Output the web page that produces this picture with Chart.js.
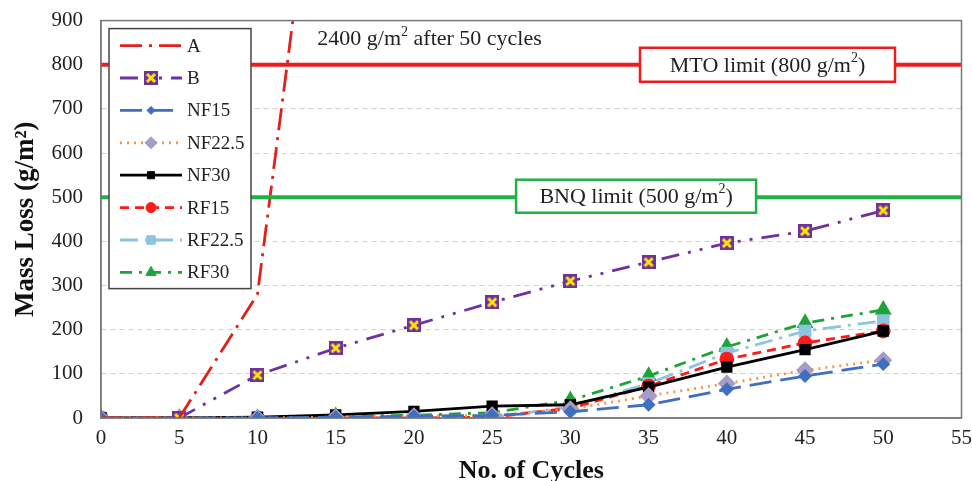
<!DOCTYPE html>
<html>
<head>
<meta charset="utf-8">
<script src="https://cdn.jsdelivr.net/npm/chart.js@4.4.1/dist/chart.umd.min.js"></script>
<style>
  html, body { margin: 0; padding: 0; background: #fff; overflow: hidden; }
  #wrap { width: 980px; height: 491px; margin-top: -10px; }
</style>
</head>
<body>
<div id="wrap"><canvas id="chart"></canvas></div>
<script>
// data
var cycles = [0, 5, 10, 15, 20, 25, 30, 35, 40, 45, 50];
var lossA = [0, 0, 280, 1650, 1900, 2050, 2150, 2250, 2300, 2350, 2400];
var lossB = [null, 0, 97, 158, 210, 262, 310, 353, 396, 423, 470];
var lossNF15 = [0, 0, 0, 2, 4, 6, 14, 30, 65, 95, 122];
var lossNF22 = [0, 0, 0, 2, 4, 6, 20, 50, 78, 108, 131];
var lossNF30 = [0, 0, 2, 7, 15, 27, 30, 70, 115, 155, 197];
var lossRF15 = [0, 0, 0, 0, 0, 2, 22, 72, 133, 170, 197];
var lossRF22 = [0, 0, 0, 0, 0, 2, 25, 78, 147, 197, 220];
var lossRF30 = [0, 0, 0, 4, 6, 12, 40, 95, 161, 215, 245];
var limitValues = [800, 500];
var limitLabels = ["MTO limit (800 g/m", "BNQ limit (500 g/m"];
var xTicks = [0, 5, 10, 15, 20, 25, 30, 35, 40, 45, 50, 55];

function pts(vals) {
  return cycles.map(function (c, i) { return { x: c, y: vals[i] }; });
}

// marker for B: purple square with yellow cross
var bMark = document.createElement("canvas");
bMark.width = 14; bMark.height = 14;
(function () {
  var c = bMark.getContext("2d");
  c.fillStyle = "#7030a0";
  c.fillRect(0, 0, 14, 14);
  c.strokeStyle = "#ffe600";
  c.lineWidth = 3;
  c.beginPath();
  c.moveTo(3, 3); c.lineTo(11, 11);
  c.moveTo(11, 3); c.lineTo(3, 11);
  c.stroke();
})();

var series = [
  { label: "A", data: pts(lossA), borderColor: "#e0201b", backgroundColor: "#e0201b", borderWidth: 2.8, borderDash: [22, 7, 3, 7], pointRadius: 0, pointStyle: false },
  { label: "B", data: pts(lossB), borderColor: "#7030a0", backgroundColor: "#7030a0", borderWidth: 2.8, borderDash: [18, 9, 3, 9, 3, 9], pointStyle: bMark, pointRadius: 7 },
  { label: "NF15", data: pts(lossNF15), borderColor: "#3f6fc0", backgroundColor: "#3f6fc0", borderWidth: 2.8, borderDash: [22, 9], pointStyle: "rectRot", pointRadius: 5 },
  { label: "NF22.5", data: pts(lossNF22), borderColor: "#f79646", backgroundColor: "#a79bc8", pointBorderColor: "#a79bc8", borderWidth: 2.8, borderDash: [2, 5], pointStyle: "rectRot", pointRadius: 7 },
  { label: "NF30", data: pts(lossNF30), borderColor: "#000000", backgroundColor: "#000000", borderWidth: 2.8, borderDash: [], pointStyle: "rect", pointRadius: 6 },
  { label: "RF15", data: pts(lossRF15), borderColor: "#ff1a1a", backgroundColor: "#ff1a1a", borderWidth: 2.8, borderDash: [9, 6], pointStyle: "circle", pointRadius: 6 },
  { label: "RF22.5", data: pts(lossRF22), borderColor: "#8dc3de", backgroundColor: "#8dc3de", borderWidth: 2.8, borderDash: [18, 7, 3, 7], pointStyle: "rect", pointRadius: 7 },
  { label: "RF30", data: pts(lossRF30), borderColor: "#1ea33b", backgroundColor: "#1ea33b", borderWidth: 2.8, borderDash: [12, 7, 3, 7], pointStyle: "triangle", pointRadius: 7 }
];

var limitColors = ["#ee1c1c", "#1fb142"];
var limitSets = limitValues.map(function (v, i) {
  return { label: limitLabels[i], isLimit: true, data: [{ x: 0, y: v }, { x: 55, y: v }],
    borderColor: limitColors[i], borderWidth: 4, pointRadius: 0, borderDash: [] };
});

var serif = "'Liberation Serif', 'DejaVu Serif', serif";

// frame, annotations and legend
var decor = {
  id: "decor",
  afterDraw: function (chart) {
    var ctx = chart.ctx, a = chart.chartArea;
    var xs = chart.scales.x, ys = chart.scales.y;
    ctx.save();
    ctx.strokeStyle = "#777";
    ctx.lineWidth = 1.5;
    ctx.strokeRect(a.left, a.top, a.right - a.left, a.bottom - a.top);

    // text with superscript 2
    function supText(pre, post, x, y, size) {
      ctx.font = size + "px " + serif;
      var w1 = ctx.measureText(pre).width;
      ctx.font = Math.round(size * 0.62) + "px " + serif;
      var w2 = ctx.measureText("2").width;
      ctx.font = size + "px " + serif;
      var w3 = ctx.measureText(post).width;
      var sx = x - (w1 + w2 + w3) / 2;
      ctx.textAlign = "left";
      ctx.textBaseline = "middle";
      ctx.fillStyle = "#222";
      ctx.fillText(pre, sx, y);
      ctx.font = Math.round(size * 0.62) + "px " + serif;
      ctx.fillText("2", sx + w1, y - size * 0.35);
      ctx.font = size + "px " + serif;
      ctx.fillText(post, sx + w1 + w2, y);
    }

    // limit label boxes
    var boxes = [
      { cx: xs.getPixelForValue(42.6), cy: ys.getPixelForValue(limitValues[0]), w: 255, h: 34 },
      { cx: xs.getPixelForValue(34.2), cy: ys.getPixelForValue(limitValues[1]) - 1, w: 240, h: 33 }
    ];
    boxes.forEach(function (b, i) {
      ctx.fillStyle = "#fff";
      ctx.fillRect(b.cx - b.w / 2, b.cy - b.h / 2, b.w, b.h);
      ctx.strokeStyle = limitColors[i];
      ctx.lineWidth = 2.5;
      ctx.strokeRect(b.cx - b.w / 2, b.cy - b.h / 2, b.w, b.h);
      supText(limitLabels[i], ")", b.cx, b.cy + 1, 22);
    });

    // A note
    supText("2400 g/m", " after 50 cycles", xs.getPixelForValue(21.0), a.top + 19, 22);

    // legend
    var lx = a.left + 8, ly = a.top + 8, lw = 142, lh = 260;
    ctx.fillStyle = "#fff";
    ctx.fillRect(lx, ly, lw, lh);
    ctx.strokeStyle = "#444";
    ctx.lineWidth = 1.5;
    ctx.strokeRect(lx, ly, lw, lh);
    var k = 0;
    chart.data.datasets.forEach(function (ds) {
      if (ds.isLimit) return;
      var y = ly + 17 + k * 32.4;
      k++;
      ctx.strokeStyle = ds.borderColor;
      ctx.lineWidth = ds.borderWidth;
      ctx.setLineDash(ds.borderDash || []);
      ctx.beginPath();
      ctx.moveTo(lx + 11, y);
      ctx.lineTo(lx + 73, y);
      ctx.stroke();
      ctx.setLineDash([]);
      if (ds.pointStyle) {
        ctx.fillStyle = ds.backgroundColor;
        ctx.strokeStyle = ds.pointBorderColor || ds.borderColor;
        ctx.lineWidth = 1;
        Chart.helpers.drawPoint(ctx, { pointStyle: ds.pointStyle, radius: ds.pointRadius - 1, borderWidth: 1, rotation: 0 }, lx + 42, y);
      }
      ctx.fillStyle = "#222";
      ctx.font = "19px " + serif;
      ctx.textAlign = "left";
      ctx.textBaseline = "middle";
      ctx.fillText(ds.label, lx + 78, y + 1);
    });
    ctx.restore();
  }
};

new Chart(document.getElementById("chart"), {
  type: "line",
  data: { datasets: limitSets.concat(series) },
  options: {
    responsive: true,
    maintainAspectRatio: false,
    animation: false,
    layout: { padding: 0 },
    plugins: { legend: { display: false }, tooltip: { enabled: false } },
    elements: { line: { tension: 0 } },
    scales: {
      x: {
        type: "linear",
        min: 0,
        max: 55,
        afterBuildTicks: function (s) { s.ticks = xTicks.map(function (v) { return { value: v }; }); },
        afterFit: function (s) { s.height = 63; },
        grid: { display: false, drawTicks: false },
        border: { display: true, color: "#888", width: 1.5 },
        ticks: { color: "#222", font: { family: serif, size: 21 }, padding: 8, maxRotation: 0 },
        title: { display: true, text: "No. of Cycles", color: "#111", font: { family: serif, size: 26, weight: "bold" }, padding: { top: 0, bottom: -6 } }
      },
      y: {
        min: 0,
        max: 900,
        afterFit: function (s) { s.width = 101; },
        ticks: { stepSize: 100, color: "#222", font: { family: serif, size: 21 }, padding: 18 },
        grid: { color: "#cfcfcf", drawTicks: false },
        border: { display: true, color: "#888", width: 1.5, dash: [5, 4] },
        title: { display: true, text: "Mass Loss (g/m\u00B2)", color: "#111", font: { family: serif, size: 27, weight: "bold" }, padding: { top: 10, bottom: 0 } }
      }
    }
  },
  plugins: [decor]
});
</script>
</body>
</html>
